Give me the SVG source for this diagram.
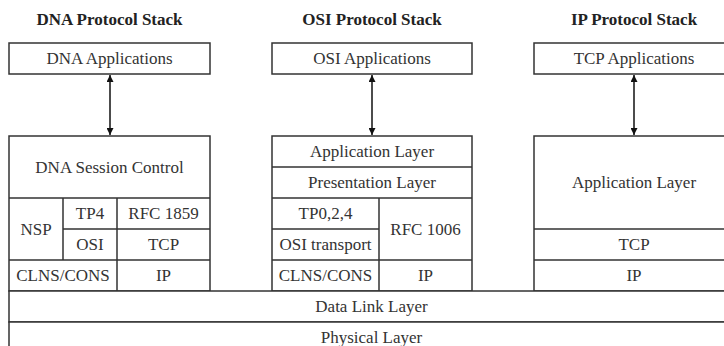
<svg xmlns="http://www.w3.org/2000/svg" width="724" height="346" viewBox="0 0 724 346">
<defs>
<style>
.box{fill:#fff;stroke:#333;stroke-width:1.5}
.ln{stroke:#333;stroke-width:1.5;fill:none}
.t{font-family:"Liberation Serif","Times New Roman",serif;font-size:17px;fill:#333;text-anchor:middle}
.h{font-family:"Liberation Serif","Times New Roman",serif;font-size:17px;font-weight:bold;fill:#222;text-anchor:middle}
.arr{stroke:#111;stroke-width:1.5;fill:none;marker-start:url(#ah);marker-end:url(#ah)}
</style>
<marker id="ah" viewBox="0 0 10 10" refX="10" refY="5" markerWidth="7" markerHeight="7" orient="auto-start-reverse" markerUnits="userSpaceOnUse">
<path d="M0,0 L10,5 L0,10 z" fill="#111"/>
</marker>
</defs>
<rect width="724" height="346" fill="#fff"/>

<g id="titles">
<text class="h" x="109.5" y="25">DNA Protocol Stack</text>
<text class="h" x="372" y="25">OSI Protocol Stack</text>
<text class="h" x="634" y="25">IP Protocol Stack</text>
</g>

<g id="dna-apps"><rect class="box" x="9" y="43" width="201" height="31"/><text class="t" x="109.5" y="64">DNA Applications</text></g>
<g id="osi-apps"><rect class="box" x="272" y="43" width="200" height="31"/><text class="t" x="372" y="64">OSI Applications</text></g>
<g id="tcp-apps"><rect class="box" x="534" y="43" width="200" height="31"/><text class="t" x="634" y="64">TCP Applications</text></g>

<g id="dna-stack">
<rect class="box" x="9" y="136" width="201" height="155"/>
<path class="ln" d="M9,198H210 M63,198V260 M117,198V291 M63,229H210 M9,260H210"/>
<text class="t" x="109.5" y="172.5">DNA Session Control</text>
<text class="t" x="36" y="234.5">NSP</text>
<text class="t" x="90" y="219">TP4</text>
<text class="t" x="163.5" y="219">RFC 1859</text>
<text class="t" x="90" y="250">OSI</text>
<text class="t" x="163.5" y="250">TCP</text>
<text class="t" x="63" y="281">CLNS/CONS</text>
<text class="t" x="163.5" y="281">IP</text>
</g>

<g id="osi-stack">
<rect class="box" x="272" y="136" width="200" height="155"/>
<path class="ln" d="M272,167H472 M272,198H472 M379,198V291 M272,229H379 M272,260H472"/>
<text class="t" x="372" y="157">Application Layer</text>
<text class="t" x="372" y="188">Presentation Layer</text>
<text class="t" x="325.5" y="219">TP0,2,4</text>
<text class="t" x="325.5" y="250">OSI transport</text>
<text class="t" x="425.5" y="234.5">RFC 1006</text>
<text class="t" x="325.5" y="281">CLNS/CONS</text>
<text class="t" x="425.5" y="281">IP</text>
</g>

<g id="ip-stack">
<rect class="box" x="534" y="136" width="200" height="155"/>
<path class="ln" d="M534,229H734 M534,260H734"/>
<text class="t" x="634" y="188">Application Layer</text>
<text class="t" x="634" y="250">TCP</text>
<text class="t" x="634" y="281">IP</text>
</g>

<g id="data-link"><rect class="box" x="9" y="291" width="730" height="31"/><text class="t" x="371.5" y="312">Data Link Layer</text></g>
<g id="physical"><rect class="box" x="9" y="322" width="730" height="40"/><text class="t" x="371.5" y="343">Physical Layer</text></g>

<g id="connectors">
<line class="arr" x1="110" y1="75" x2="110" y2="135"/>
<line class="arr" x1="372" y1="75" x2="372" y2="135"/>
<line class="arr" x1="634" y1="75" x2="634" y2="135"/>
</g>
</svg>
